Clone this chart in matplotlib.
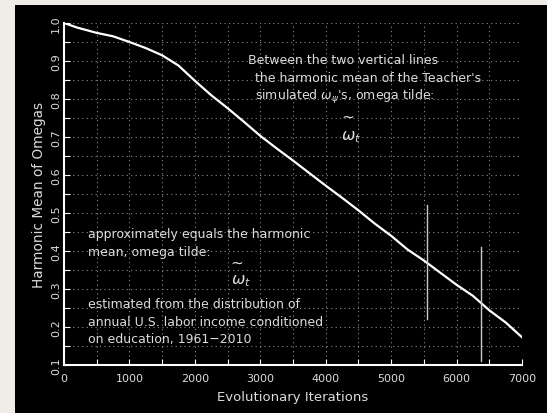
import numpy as np
import matplotlib
matplotlib.use("Agg")
import matplotlib.pyplot as plt
from matplotlib.patches import Rectangle

# harmonic mean of the simulated omegas over the run
iters = np.array([0, 200, 500, 750, 1000, 1250, 1500, 1750, 2000, 2250, 2500,
                  2750, 3000, 3250, 3500, 3750, 4000, 4250, 4500, 4750, 5000,
                  5250, 5500, 5750, 6000, 6250, 6500, 6750, 7000])
hmean = np.array([1.000, 0.988, 0.974, 0.965, 0.950, 0.934, 0.915, 0.888, 0.848,
                  0.810, 0.776, 0.740, 0.703, 0.670, 0.638, 0.605, 0.572, 0.540,
                  0.507, 0.472, 0.440, 0.404, 0.375, 0.343, 0.311, 0.282, 0.244,
                  0.212, 0.173])

# the two vertical markers: x position, bottom, top
vline_x = [5550, 6380]
vline_lo = [0.22, 0.11]
vline_hi = [0.52, 0.41]

xticks = np.arange(0, 7001, 1000)
yticks = np.round(np.arange(0.1, 1.01, 0.1), 1)

fg = "#dcdcdc"
plt.rcParams["font.family"] = ["DejaVu Sans"]
plt.rcParams["mathtext.fontset"] = "dejavusans"

fig = plt.figure(figsize=(5.47, 4.14), dpi=100)
fig.patch.set_facecolor("black")
# page margin strips
fig.add_artist(Rectangle((0, 0), 15 / 547, 1, transform=fig.transFigure,
                         facecolor="#efede6", edgecolor="none", zorder=5))
fig.add_artist(Rectangle((0, 1 - 6 / 414), 1, 6 / 414, transform=fig.transFigure,
                         facecolor="#efede6", edgecolor="none", zorder=5))

ax = fig.add_axes([64 / 547, 1 - 366 / 414, 458 / 547, 342 / 414])
ax.set_facecolor("black")
ax.set_xlim(0, 7000)
ax.set_ylim(0.1, 1.0)

ax.plot(iters, hmean, color="white", lw=1.6, zorder=3)
for x, lo, hi in zip(vline_x, vline_lo, vline_hi):
    ax.plot([x, x], [lo, hi], color="#c8c8c8", lw=1.0, zorder=3)

ax.set_xticks(xticks)
ax.set_xticks(np.arange(500, 7000, 1000), minor=True)
ax.set_yticks(yticks)
ax.set_yticks(np.arange(0.15, 1.0, 0.1), minor=True)
ax.set_yticklabels([f"{v:.1f}" for v in yticks], rotation=90, va="center")
ax.grid(which="both", color="#8a8a8a", linestyle=(0, (1, 3)), lw=0.8)

for s in ["top", "right"]:
    ax.spines[s].set_visible(False)
for s in ["left", "bottom"]:
    ax.spines[s].set_color("white")
    ax.spines[s].set_linewidth(1.5)
ax.tick_params(which="both", direction="in", colors="white", labelcolor=fg,
               labelsize=8, length=4, width=0.8)
ax.tick_params(axis="x", pad=6)
ax.tick_params(axis="y", pad=2)

ax.set_xlabel("Evolutionary Iterations", color=fg, fontsize=9.5, labelpad=5)
ax.set_ylabel("Harmonic Mean of Omegas", color=fg, fontsize=9.8, labelpad=4)

tk = dict(color=fg, fontsize=9, va="center", ha="left")
ax.text(2817, 0.905, "Between the two vertical lines", **tk)
ax.text(2919, 0.857, "the harmonic mean of the Teacher's", **tk)
ax.text(2919, 0.809, r"simulated $\omega_\psi$'s, omega tilde:", **tk)
ax.text(4330, 0.755, "~", color=fg, fontsize=11, ha="center", va="center")
ax.text(4229, 0.703, r"$\omega_t$", color=fg, fontsize=11.5, ha="left", va="center")

ax.text(372, 0.447, "approximately equals the harmonic", **tk)
ax.text(372, 0.399, "mean, omega tilde:", **tk)
ax.text(2640, 0.372, "~", color=fg, fontsize=11, ha="center", va="center")
ax.text(2548, 0.324, r"$\omega_t$", color=fg, fontsize=11.5, ha="left", va="center")
ax.text(372, 0.261, "estimated from the distribution of", **tk)
ax.text(372, 0.214, "annual U.S. labor income conditioned", **tk)
ax.text(372, 0.170, "on education, 1961\u22122010", **tk)

fig.savefig("out.png", dpi=100, facecolor=fig.get_facecolor())
